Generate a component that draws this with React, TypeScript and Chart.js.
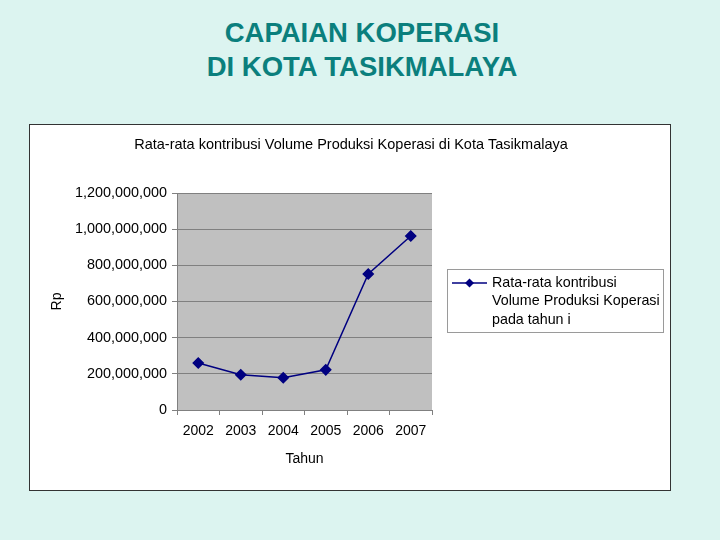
import React, { useEffect, useRef } from "react";
import { Chart, registerables } from "chart.js";

Chart.register(...registerables);

const years = ["2002", "2003", "2004", "2005", "2006", "2007"];
const contribution = [260000000, 195000000, 178000000, 222000000, 752000000, 962000000];
const legendLines = ["Rata-rata kontribusi", "Volume Produksi Koperasi", "pada tahun i"];
const chartTitle = "Rata-rata kontribusi Volume Produksi Koperasi di Kota Tasikmalaya";
const pageTitleLines = ["CAPAIAN KOPERASI", "DI KOTA TASIKMALAYA"];
const yMin = 0;
const yMax = 1200000000;
const yStep = 200000000;

const FONT = "'Liberation Sans', Arial, sans-serif";
const NAVY = "#000080";

const plotBgPlugin = {
  id: "plotBg",
  beforeDraw(chart: any) {
    const { ctx, chartArea } = chart;
    ctx.save();
    ctx.fillStyle = "#c0c0c0";
    ctx.fillRect(chartArea.left, chartArea.top, chartArea.right - chartArea.left, chartArea.bottom - chartArea.top);
    ctx.restore();
  },
};

const titlePlugin = {
  id: "customTitle",
  afterDraw(chart: any) {
    const { ctx } = chart;
    ctx.save();
    ctx.fillStyle = "#000000";
    ctx.font = `14.5px ${FONT}`;
    ctx.textAlign = "center";
    ctx.textBaseline = "middle";
    ctx.fillText(chartTitle, 321, 20);
    ctx.restore();
  },
};

const legendPlugin = {
  id: "customLegend",
  afterDraw(chart: any) {
    const { ctx } = chart;
    const x = 417.5, y = 144.5, w = 216, h = 63;
    ctx.save();
    ctx.fillStyle = "#ffffff";
    ctx.fillRect(x, y, w, h);
    ctx.strokeStyle = "#9a9a9a";
    ctx.lineWidth = 1;
    ctx.strokeRect(x, y, w, h);
    const ds = chart.data.datasets[0];
    const ly = 158;
    ctx.strokeStyle = ds.borderColor;
    ctx.lineWidth = 1.5;
    ctx.beginPath();
    ctx.moveTo(422, ly);
    ctx.lineTo(457, ly);
    ctx.stroke();
    ctx.fillStyle = ds.pointBackgroundColor;
    ctx.beginPath();
    const r = 4.5;
    ctx.moveTo(439.5, ly - r);
    ctx.lineTo(439.5 + r, ly);
    ctx.lineTo(439.5, ly + r);
    ctx.lineTo(439.5 - r, ly);
    ctx.closePath();
    ctx.fill();
    ctx.fillStyle = "#000000";
    ctx.font = `14.3px ${FONT}`;
    ctx.textBaseline = "middle";
    ctx.textAlign = "left";
    legendLines.forEach((line, i) => {
      ctx.fillText(line, 462, ly + i * 18.5);
    });
    ctx.restore();
  },
};

export default function App() {
  const canvasRef = useRef<HTMLCanvasElement | null>(null);

  useEffect(() => {
    if (!canvasRef.current) return;
    const chart = new Chart(canvasRef.current, {
      type: "line",
      data: {
        labels: years,
        datasets: [
          {
            label: legendLines.join(" "),
            data: contribution,
            borderColor: NAVY,
            backgroundColor: NAVY,
            pointBackgroundColor: NAVY,
            pointBorderColor: NAVY,
            pointStyle: "rectRot",
            pointRadius: 5,
            borderWidth: 1.5,
            tension: 0,
          },
        ],
      },
      options: {
        responsive: false,
        animation: false,
        layout: { padding: { top: 68, right: 238, bottom: 0, left: 0 } },
        plugins: {
          legend: { display: false },
          tooltip: { enabled: false },
          title: { display: false },
        },
        scales: {
          x: {
            type: "category",
            offset: true,
            grid: {
              offset: true,
              drawOnChartArea: false,
              drawTicks: true,
              tickLength: 5,
              color: "#808080",
            },
            border: { display: true, color: "#808080", width: 1 },
            ticks: {
              color: "#000000",
              font: { family: FONT, size: 14 },
              padding: 8,
              maxRotation: 0,
            },
            title: {
              display: true,
              text: "Tahun",
              color: "#000000",
              font: { family: FONT, size: 14 },
              padding: { top: 0, bottom: 22 },
            },
            afterFit(scale: any) {
              scale.height = 80;
            },
          },
          y: {
            min: yMin,
            max: yMax,
            grid: {
              color: "#808080",
              drawTicks: true,
              tickLength: 5,
            },
            border: { display: true, color: "#808080", width: 1 },
            ticks: {
              stepSize: yStep,
              color: "#000000",
              font: { family: FONT, size: 14.4 },
              padding: 5,
              callback: (v: any) => Number(v).toLocaleString("en-US"),
            },
            title: {
              display: true,
              text: "Rp",
              color: "#000000",
              font: { family: FONT, size: 14 },
              padding: { top: 19, bottom: 0 },
            },
            afterFit(scale: any) {
              scale.width = 147;
            },
          },
        },
      },
      plugins: [plotBgPlugin, titlePlugin, legendPlugin],
    });
    return () => chart.destroy();
  }, []);

  return (
    <div
      style={{
        position: "fixed",
        left: 0,
        top: 0,
        width: 720,
        height: 540,
        background: "#dcf4f0",
        fontFamily: FONT,
      }}
    >
      {pageTitleLines.map((line, i) => (
        <div
          key={i}
          style={{
            position: "absolute",
            left: 0,
            width: 724,
            top: 18 + i * 34,
            textAlign: "center",
            fontSize: 27.5,
            fontWeight: "bold",
            lineHeight: "30px",
            color: "#0b7f7d",
          }}
        >
          {line}
        </div>
      ))}
      <div
        style={{
          position: "absolute",
          left: 29,
          top: 124,
          width: 640,
          height: 365,
          border: "1.5px solid #333333",
          background: "#ffffff",
        }}
      >
        <canvas ref={canvasRef} width={640} height={365} style={{ display: "block" }} />
      </div>
    </div>
  );
}
